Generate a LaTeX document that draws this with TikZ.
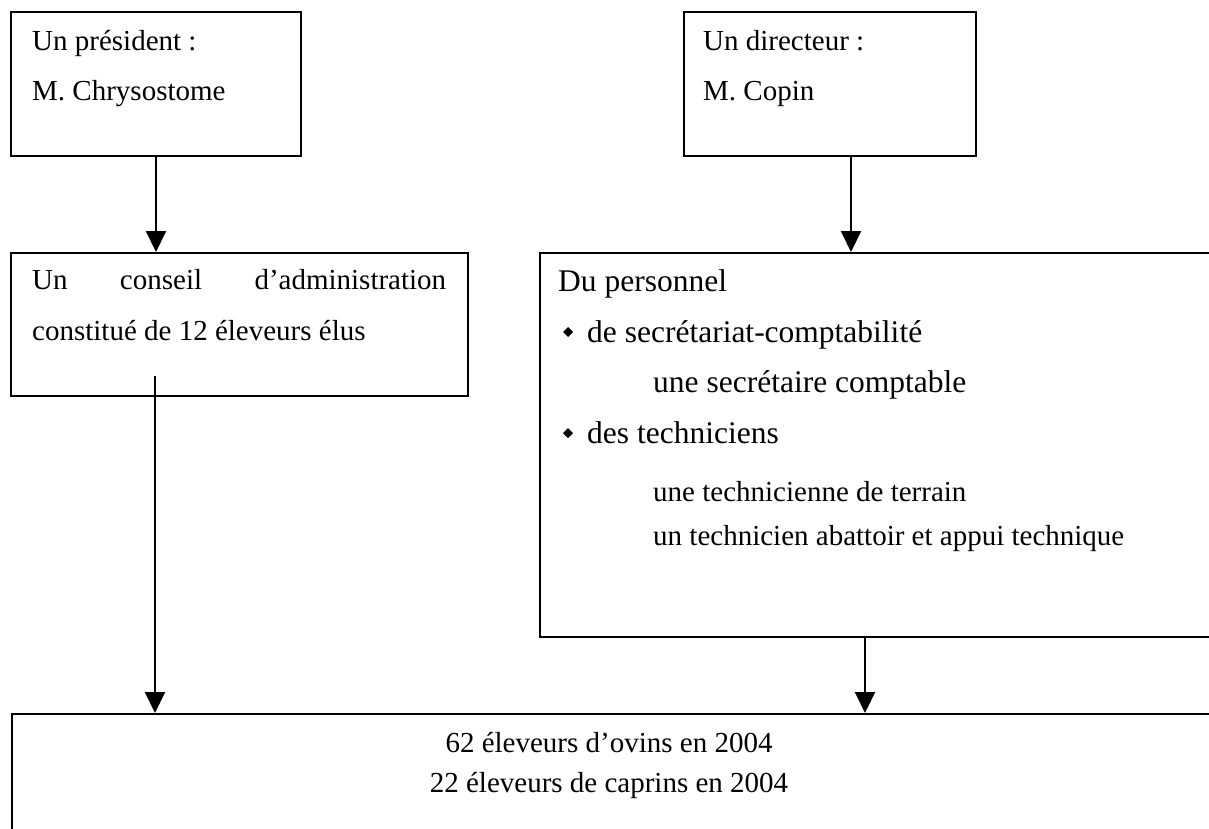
\documentclass[tikz,border=0pt]{standalone}
\usepackage{fontspec}
\setmainfont{Liberation Serif}
\usetikzlibrary{arrows.meta}

\begin{document}
\begin{tikzpicture}[x=1pt,y=-1pt,
  box/.style={draw=black,line width=2pt,inner sep=0pt,anchor=north west},
  txt/.style={anchor=base west,inner sep=0pt,font=\fontsize{29}{35}\selectfont},
  ptxt/.style={anchor=base west,inner sep=0pt,font=\fontsize{31.5}{38}\selectfont},
  ctxt/.style={anchor=base,inner sep=0pt,font=\fontsize{29}{35}\selectfont},
  link/.style={line width=2pt,-{Triangle[width=20pt,length=21pt]}},
  bul/.style={fill=black}]
  \useasboundingbox (0,0) rectangle (1209,828);
  \clip (0,0) rectangle (1209,828);

  % boxes
  \node[box,minimum width=290pt,minimum height=144pt] (pres) at (10,11) {};
  \node[box,minimum width=292pt,minimum height=144pt] (dir) at (683,11) {};
  \node[box,minimum width=457pt,minimum height=143pt] (cons) at (10,252) {};
  \node[box,minimum width=720pt,minimum height=384pt] (pers) at (539,252) {};
  \node[box,minimum width=1210pt,minimum height=160pt] (base) at (11,713) {};

  % texts
  \node[txt] (t1) at (32,50) {Un président :};
  \node[txt] (t2) at (32,100) {M. Chrysostome};
  \node[txt] (t3) at (703,50) {Un directeur :};
  \node[txt] (t4) at (703,100) {M. Copin};
  \node[txt] (t5) at (32,289) {\makebox[414pt][s]{Un conseil d’administration}};
  \node[txt] (t6) at (32,340) {constitué de 12 éleveurs élus};
  \node[ptxt] (t7) at (558,291) {Du personnel};
  \node[ptxt] (t8) at (587,342) {de secrétariat-comptabilité};
  \node[ptxt] (t9) at (653,392) {une secrétaire comptable};
  \node[ptxt] (t10) at (587,443) {des techniciens};
  \node[txt] (t11) at (653,501) {une technicienne de terrain};
  \node[txt] (t12) at (653,545) {un technicien abattoir et appui technique};
  \node[ctxt] (t13) at (609,752) {62 éleveurs d’ovins en 2004};
  \node[ctxt] (t14) at (609,792) {22 éleveurs de caprins en 2004};

  % bullets
  \fill[bul] (563,332) -- (568,327) -- (573,332) -- (568,337) -- cycle;
  \fill[bul] (563,433) -- (568,428) -- (573,433) -- (568,438) -- cycle;

  % connectors
  \coordinate (dirout) at (851,155);
  \coordinate (constap) at (155,376);
  \coordinate (persout) at (865,636);
  \draw[link] (pres.south) -- (pres.south |- cons.north);
  \draw[link] (dirout) -- (dirout |- pers.north);
  \draw[link] (constap) -- (constap |- base.north);
  \draw[link] (persout) -- (persout |- base.north);
\end{tikzpicture}
\end{document}
